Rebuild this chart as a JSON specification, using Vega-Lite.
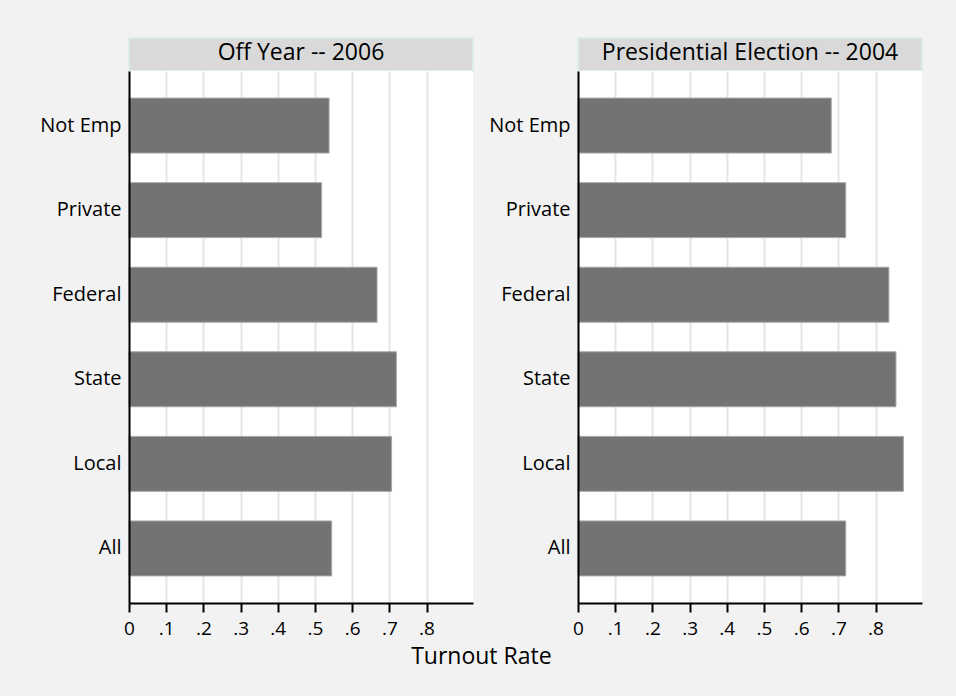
{
  "$schema": "https://vega.github.io/schema/vega-lite/v6.json",
  "background": "#f2f2f2",
  "padding": {"left": 39, "top": 37, "right": 34, "bottom": 28},
  "bounds": "flush",
  "columns": 2,
  "spacing": {"row": 0, "column": 105},
  "title": {
    "text": "Turnout Rate",
    "orient": "bottom",
    "anchor": "middle",
    "frame": "bounds",
    "fontSize": 23,
    "fontWeight": "normal",
    "color": "black",
    "offset": 8
  },
  "datasets": {
    "turnout": [
      {"period": "Off Year -- 2006", "sector": "Not Emp", "rate": 0.538},
      {"period": "Off Year -- 2006", "sector": "Private", "rate": 0.518},
      {"period": "Off Year -- 2006", "sector": "Federal", "rate": 0.667},
      {"period": "Off Year -- 2006", "sector": "State", "rate": 0.719},
      {"period": "Off Year -- 2006", "sector": "Local", "rate": 0.706},
      {"period": "Off Year -- 2006", "sector": "All", "rate": 0.545},
      {"period": "Presidential Election -- 2004", "sector": "Not Emp", "rate": 0.681},
      {"period": "Presidential Election -- 2004", "sector": "Private", "rate": 0.72},
      {"period": "Presidential Election -- 2004", "sector": "Federal", "rate": 0.836},
      {"period": "Presidential Election -- 2004", "sector": "State", "rate": 0.855},
      {"period": "Presidential Election -- 2004", "sector": "Local", "rate": 0.875},
      {"period": "Presidential Election -- 2004", "sector": "All", "rate": 0.72}
    ]
  },
  "concat": [
    {
      "width": 344,
      "height": 33,
      "view": {"fill": "#d9d9d9", "stroke": "#dcebeb", "strokeWidth": 2},
      "data": {"name": "turnout"},
      "transform": [
        {"filter": "datum.period === 'Off Year -- 2006'"},
        {"aggregate": [{"op": "count", "as": "n"}], "groupby": ["period"]}
      ],
      "mark": {"type": "text", "fontSize": 23, "color": "black", "baseline": "middle", "align": "center", "dy": -2},
      "encoding": {"text": {"field": "period", "type": "nominal"}}
    },
    {
      "width": 344,
      "height": 33,
      "view": {"fill": "#d9d9d9", "stroke": "#dcebeb", "strokeWidth": 2},
      "data": {"name": "turnout"},
      "transform": [
        {"filter": "datum.period === 'Presidential Election -- 2004'"},
        {"aggregate": [{"op": "count", "as": "n"}], "groupby": ["period"]}
      ],
      "mark": {"type": "text", "fontSize": 23, "color": "black", "baseline": "middle", "align": "center", "dy": -2},
      "encoding": {"text": {"field": "period", "type": "nominal"}}
    },
    {
      "width": 344,
      "height": 532,
      "view": {"fill": "#ffffff", "stroke": null},
      "data": {"name": "turnout"},
      "transform": [{"filter": "datum.period === 'Off Year -- 2006'"}],
      "mark": {"type": "bar", "color": "#737373", "stroke": "#a8a8a8", "strokeWidth": 1},
      "encoding": {
        "y": {
          "field": "sector", "type": "nominal",
          "sort": ["Not Emp", "Private", "Federal", "State", "Local", "All"],
          "scale": {"paddingInner": 0.35, "paddingOuter": 0.32},
          "axis": {"title": null, "ticks": false, "labelPadding": 8, "labelFontSize": 20, "labelColor": "black", "domainColor": "black", "domainWidth": 2, "grid": false, "zindex": 1}
        },
        "x": {
          "field": "rate", "type": "quantitative",
          "scale": {"domain": [0, 0.925], "nice": false, "zero": true},
          "axis": {
            "title": null,
            "values": [0, 0.1, 0.2, 0.3, 0.4, 0.5, 0.6, 0.7, 0.8],
            "labelExpr": "datum.value == 0 ? '0' : replace(format(datum.value, '.1f'), '0.', '.')",
            "grid": true, "gridColor": "#e6e6e6", "gridWidth": 2,
            "domainColor": "black", "domainWidth": 2,
            "tickColor": "black", "tickWidth": 2, "tickSize": 9,
            "labelPadding": 7, "labelFontSize": 19, "labelColor": "black", "labelFlush": false
          }
        }
      }
    },
    {
      "width": 344,
      "height": 532,
      "view": {"fill": "#ffffff", "stroke": null},
      "data": {"name": "turnout"},
      "transform": [{"filter": "datum.period === 'Presidential Election -- 2004'"}],
      "mark": {"type": "bar", "color": "#737373", "stroke": "#a8a8a8", "strokeWidth": 1},
      "encoding": {
        "y": {
          "field": "sector", "type": "nominal",
          "sort": ["Not Emp", "Private", "Federal", "State", "Local", "All"],
          "scale": {"paddingInner": 0.35, "paddingOuter": 0.32},
          "axis": {"title": null, "ticks": false, "labelPadding": 8, "labelFontSize": 20, "labelColor": "black", "domainColor": "black", "domainWidth": 2, "grid": false, "zindex": 1}
        },
        "x": {
          "field": "rate", "type": "quantitative",
          "scale": {"domain": [0, 0.925], "nice": false, "zero": true},
          "axis": {
            "title": null,
            "values": [0, 0.1, 0.2, 0.3, 0.4, 0.5, 0.6, 0.7, 0.8],
            "labelExpr": "datum.value == 0 ? '0' : replace(format(datum.value, '.1f'), '0.', '.')",
            "grid": true, "gridColor": "#e6e6e6", "gridWidth": 2,
            "domainColor": "black", "domainWidth": 2,
            "tickColor": "black", "tickWidth": 2, "tickSize": 9,
            "labelPadding": 7, "labelFontSize": 19, "labelColor": "black", "labelFlush": false
          }
        }
      }
    }
  ],
  "config": {
    "font": "Open Sans",
    "view": {"stroke": null}
  }
}
